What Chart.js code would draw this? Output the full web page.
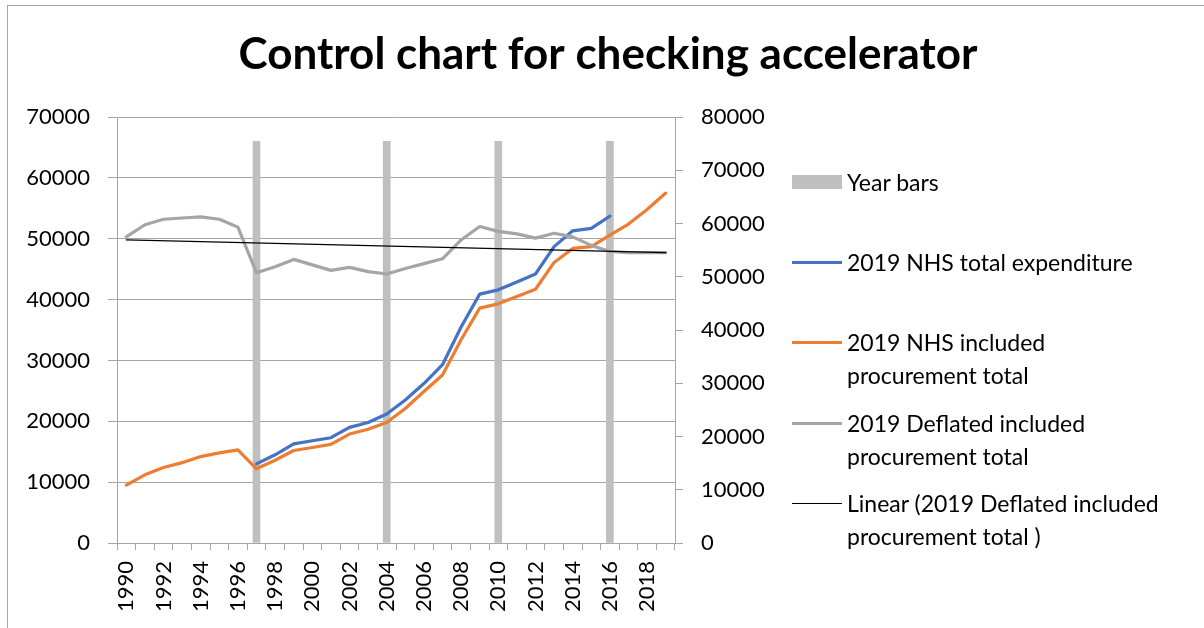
<!DOCTYPE html>
<html>
<head>
<meta charset="utf-8">
<script src="https://cdn.jsdelivr.net/npm/chart.js@4"></script>
<style>
    body { margin: 0; background: #fff; }
    #wrap { position: relative; width: 1204px; height: 628px; overflow: hidden; }
    #frame { position: absolute; left: 7px; top: 5px; right: -2px; bottom: -2px; border-left: 1px solid #a6a6a6; border-top: 1px solid #a6a6a6; }
    #chart { position: absolute; left: 0; top: 0; }
    #legend { position: absolute; left: 792px; top: 0; font-family: Lato, sans-serif; font-size: 23px; line-height: 33px; color: #000; }
    .item { position: absolute; left: 0; width: 400px; }
    .swatch { position: absolute; left: 0; width: 50px; }
    .text { position: absolute; left: 55px; width: 322px; }
</style>
</head>
<body>
<div id="wrap">
    <div id="frame"></div>
    <canvas id="chart" width="1204" height="628"></canvas>
    <div id="legend"></div>
</div>
<script>
const years = ['1990', '1991', '1992', '1993', '1994', '1995', '1996', '1997', '1998', '1999',
    '2000', '2001', '2002', '2003', '2004', '2005', '2006', '2007', '2008', '2009',
    '2010', '2011', '2012', '2013', '2014', '2015', '2016', '2017', '2018', '2019'];

// grey marker bars (left axis)
const yearBars = [null, null, null, null, null, null, null, 66000, null, null,
    null, null, null, null, 66000, null, null, null, null, null,
    66000, null, null, null, null, null, 66000, null, null, null];

const nhsTotal = [null, null, null, null, null, null, null, 13000, 14500, 16300,
    16800, 17300, 19000, 19800, 21200, 23500, 26200, 29300, 35500, 40900,
    41600, 42900, 44200, 48700, 51300, 51700, 53700, null, null, null];

const nhsProcurement = [9500, 11200, 12400, 13200, 14200, 14800, 15300, 12200, 13600, 15200,
    15700, 16200, 17900, 18700, 19800, 22100, 24900, 27600, 33400, 38600,
    39300, 40500, 41700, 46100, 48400, 48700, 50600, 52400, 54800, 57500];

const deflatedProcurement = [50300, 52300, 53200, 53400, 53600, 53200, 51900, 44400, 45400, 46600,
    45700, 44800, 45300, 44600, 44200, 45100, 45900, 46700, 49800, 52000,
    51200, 50800, 50100, 50900, 50300, 48900, 47900, 47700, 47700, 47700];

// trend line end points
const deflatedTrend = [49800, null, null, null, null, null, null, null, null, null,
    null, null, null, null, null, null, null, null, null, null,
    null, null, null, null, null, null, null, null, null, 47700];

const leftTicks = { min: 0, max: 70000, step: 10000 };
const rightTicks = { min: 0, max: 80000, step: 10000 };

const gridGrey = '#a6a6a6';
Chart.defaults.font.family = 'Lato, sans-serif';
Chart.defaults.color = '#000';

const lineStyle = {
    type: 'line',
    pointRadius: 0,
    pointHoverRadius: 0,
    tension: 0,
    borderWidth: 3.2,
    borderJoinStyle: 'round',
    borderCapStyle: 'round',
    fill: false,
    yAxisID: 'y'
};

// first dataset is drawn on top
const datasets = [
    { ...lineStyle, label: 'Linear (2019 Deflated included procurement total )', data: deflatedTrend, borderColor: '#000000', borderWidth: 1.2, spanGaps: true },
    { ...lineStyle, label: '2019 Deflated included procurement total', data: deflatedProcurement, borderColor: '#a5a5a5' },
    { ...lineStyle, label: '2019 NHS included procurement total', data: nhsProcurement, borderColor: '#ed7d31' },
    { ...lineStyle, label: '2019 NHS total expenditure', data: nhsTotal, borderColor: '#4472c4' },
    { type: 'bar', label: 'Year bars', data: yearBars, backgroundColor: '#bfbfbf', barThickness: 7, yAxisID: 'y' }
];

const plainNumber = (v) => String(v);

new Chart(document.getElementById('chart').getContext('2d'), {
    data: { labels: years, datasets: datasets },
    options: {
        responsive: false,
        animation: false,
        events: [],
        layout: { padding: { left: 12, right: 0, top: 0, bottom: 0 } },
        plugins: {
            legend: { display: false },
            tooltip: { enabled: false },
            title: {
                display: true,
                text: 'Control chart for checking accelerator',
                color: '#000',
                font: { size: 44, weight: 'bold' },
                padding: { top: 28.6, bottom: 35.6 }
            }
        },
        scales: {
            x: {
                offset: true,
                grid: { offset: true, drawOnChartArea: false, tickLength: 7, color: gridGrey },
                border: { display: true, color: gridGrey },
                ticks: {
                    autoSkip: false,
                    minRotation: 90,
                    maxRotation: 90,
                    padding: 11,
                    font: { size: 22 },
                    callback: (v, i) => (i % 2 === 0 ? years[i] : '')
                },
                afterFit: (s) => { s.height = 85; }
            },
            y: {
                position: 'left',
                min: leftTicks.min,
                max: leftTicks.max,
                ticks: { stepSize: leftTicks.step, padding: 18, font: { size: 22 }, callback: plainNumber },
                grid: { color: gridGrey, tickLength: 9 },
                border: { display: true, color: gridGrey },
                afterFit: (s) => { s.width = 105; }
            },
            y1: {
                position: 'right',
                min: rightTicks.min,
                max: rightTicks.max,
                ticks: { stepSize: rightTicks.step, padding: 18, font: { size: 22 }, callback: plainNumber },
                grid: { drawOnChartArea: false, color: gridGrey, tickLength: 8 },
                border: { display: true, color: gridGrey },
                afterFit: (s) => { s.width = 529; }
            }
        }
    }
});

// legend in the order Excel shows it
const legendOrder = [4, 3, 2, 1, 0];
const legendTops = [166, 246, 326, 407, 487];
const legend = document.getElementById('legend');
legendOrder.forEach((di, k) => {
    const ds = datasets[di];
    const item = document.createElement('div');
    item.className = 'item';
    item.style.top = legendTops[k] + 'px';
    const sw = document.createElement('div');
    sw.className = 'swatch';
    if (ds.type === 'bar') {
        sw.style.top = '9px';
        sw.style.height = '14px';
        sw.style.background = ds.backgroundColor;
    } else {
        const w = Math.max(1, Math.round(ds.borderWidth));
        sw.style.top = (16.5 - w / 2) + 'px';
        sw.style.height = w + 'px';
        sw.style.background = ds.borderColor;
    }
    const tx = document.createElement('div');
    tx.className = 'text';
    tx.textContent = ds.label;
    item.appendChild(sw);
    item.appendChild(tx);
    legend.appendChild(item);
});
</script>
</body>
</html>
